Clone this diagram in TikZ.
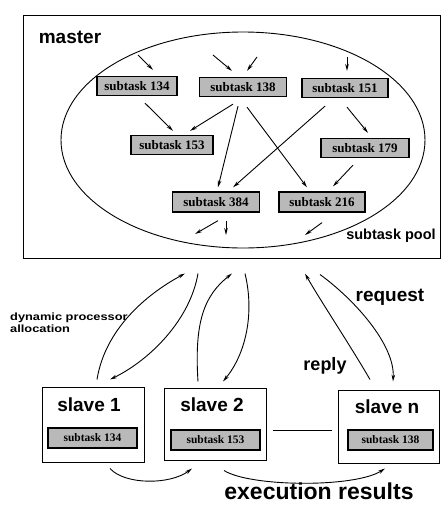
\documentclass[tikz,border=0pt]{standalone}
\usepackage{fontspec}
\setmainfont{Liberation Sans}
\newfontfamily\subfont{Liberation Serif}
\usetikzlibrary{shapes.geometric,arrows.meta}
\begin{document}
\begin{tikzpicture}[x=1pt,y=-1pt,
  subbox/.style={draw,line width=1.3pt,fill=gray!55,inner sep=0pt,
    minimum height=19pt,font=\subfont\bfseries\fontsize{13}{14}\selectfont},
  arr/.style={-{Stealth[length=7pt,width=3.6pt]},line width=0.9pt},
  plain/.style={line width=0.9pt},
  slavebox/.style={draw,line width=1pt,inner sep=0pt},
  lbl/.style={font=\bfseries,inner sep=0pt}]
\useasboundingbox (0,0) rectangle (441,507);

% master box and pool
\node[draw,line width=1pt,minimum width=417pt,minimum height=243pt,inner sep=0pt] (masterbox) at (231.5,136.5) {};
\node[draw,ellipse,line width=0.9pt,minimum width=364pt,minimum height=216pt,inner sep=0pt] (pool) at (243,140) {};
\node[lbl,font=\bfseries\fontsize{19}{21}\selectfont] (mastertxt) at (70,37) {master};
\node[lbl,font=\bfseries\fontsize{14.5}{16}\selectfont] (pooltxt) at (391,236) {subtask pool};

% subtasks in pool
\node[subbox,minimum width=80pt] (s134) at (137,86) {subtask 134};
\node[subbox,minimum width=87pt] (s138) at (243,87) {subtask 138};
\node[subbox,minimum width=86pt] (s151) at (345,88) {subtask 151};
\node[subbox,minimum width=82pt] (s153) at (172,145) {subtask 153};
\node[subbox,minimum width=88pt] (s179) at (365,148) {subtask 179};
\node[subbox,minimum width=87pt,minimum height=20pt] (s384) at (216,202) {subtask 384};
\node[subbox,minimum width=86pt,minimum height=20pt] (s216) at (322,202) {subtask 216};

% incoming arrows
\coordinate (i1) at (138,55);
\coordinate (i2) at (213,55);
\coordinate (i3) at (257,57);
\coordinate (i4) at (347,57);
\draw[arr] (i1) -- ([xshift=16pt,yshift=6pt]s134.north);
\draw[arr] (i2) -- ([xshift=-11pt,yshift=6pt]s138.north);
\draw[arr] (i3) -- ([xshift=4pt,yshift=6pt]s138.north);
\draw[arr] (i4) -- ([xshift=2pt,yshift=7pt]s151.north);

% dependencies
\draw[arr] ([xshift=8pt,yshift=-7pt]s134.south) -- ([xshift=1pt,yshift=4pt]s153.north);
\draw[arr] ([xshift=-10pt,yshift=-7pt]s138.south) -- ([xshift=18pt,yshift=4pt]s153.north);
\draw[arr] ([xshift=-5pt,yshift=-9pt]s138.south) -- ([xshift=2pt,yshift=4pt]s384.north);
\draw[arr] ([xshift=4pt,yshift=-10pt]s138.south) -- ([xshift=-15pt,yshift=4pt]s216.north);
\draw[arr] ([xshift=-20pt,yshift=-8pt]s151.south) -- ([xshift=17pt,yshift=4pt]s384.north);
\draw[arr] ([xshift=2pt,yshift=-9pt]s151.south) -- ([xshift=3pt,yshift=5pt]s179.north);
\draw[arr] ([xshift=-12pt,yshift=-7pt]s179.south) -- ([xshift=11pt,yshift=5pt]s216.north);

% outgoing arrows
\coordinate (o1) at (195,234);
\coordinate (o2) at (226,235);
\coordinate (o3) at (305,235);
\draw[arr] ([xshift=2pt,yshift=-8pt]s384.south) -- (o1);
\draw[arr] ([xshift=10pt,yshift=-8pt]s384.south) -- (o2);
\draw[arr] ([xshift=0pt,yshift=-10pt]s216.south) -- (o3);

% slaves
\node[slavebox,minimum width=102pt,minimum height=75pt] (slave1) at (93,424.5) {};
\node[slavebox,minimum width=102pt,minimum height=72pt] (slave2) at (215,424) {};
\node[slavebox,minimum width=101pt,minimum height=73pt] (slaven) at (388.5,426.5) {};
\node[lbl,font=\bfseries\fontsize{19}{21}\selectfont] (sl1txt) at (89,405) {slave 1};
\node[lbl,font=\bfseries\fontsize{19}{21}\selectfont] (sl2txt) at (212,405) {slave 2};
\node[lbl,font=\bfseries\fontsize{19}{21}\selectfont] (slntxt) at (387,407) {slave n};
\node[subbox,minimum width=89pt,minimum height=20pt,font=\subfont\bfseries\fontsize{11.5}{12}\selectfont] (q134) at (92.5,438) {subtask 134};
\node[subbox,minimum width=89pt,minimum height=20pt,font=\subfont\bfseries\fontsize{11.5}{12}\selectfont] (q153) at (215.5,440) {subtask 153};
\node[subbox,minimum width=85pt,minimum height=20pt,font=\subfont\bfseries\fontsize{11.5}{12}\selectfont] (q138) at (390.5,440) {subtask 138};

% ellipsis line
\draw[plain] ([xshift=6pt,yshift=-6pt]slave2.east) -- ([xshift=-6pt,yshift=-3.5pt]slaven.west);

% master <-> slave connectors
\coordinate (t1a) at ([xshift=-46.5pt,yshift=-15pt]masterbox.south);
\coordinate (t1b) at ([xshift=-33.5pt,yshift=-15pt]masterbox.south);
\coordinate (t2a) at ([xshift=0.5pt,yshift=-15pt]masterbox.south);
\coordinate (t2b) at ([xshift=13.5pt,yshift=-15pt]masterbox.south);
\coordinate (tna) at ([xshift=73.5pt,yshift=-15pt]masterbox.south);
\coordinate (tnb) at ([xshift=88.5pt,yshift=-16pt]masterbox.south);
\coordinate (b1a) at ([xshift=4pt,yshift=7pt]slave1.north);
\coordinate (b1b) at ([xshift=17pt,yshift=7pt]slave1.north);
\coordinate (b2a) at ([xshift=-17pt,yshift=6pt]slave2.north);
\coordinate (b2b) at ([xshift=8pt,yshift=6pt]slave2.north);
\coordinate (bna) at ([xshift=-18.5pt,yshift=10pt]slaven.north);
\coordinate (bnb) at ([xshift=4.5pt,yshift=8pt]slaven.north);

\draw[arr] (b1a) .. controls (105,330) and (145,295) .. (t1a);
\draw[arr] (t1b) .. controls (190,320) and (150,360) .. (b1b);
\draw[arr] (b2a) .. controls (194,320) and (205,295) .. (t2a);
\draw[arr] (t2b) .. controls (255,315) and (245,355) .. (b2b);
\draw[arr] (bna) .. controls (350,345) and (320,300) .. (tna);
\draw[arr] (tnb) .. controls (355,300) and (395,345) .. (bnb);

\node[lbl,font=\bfseries\fontsize{10.5}{11.5}\selectfont,align=left,anchor=north west] (dyn) at (10,313)
  {\addfontfeature{FakeStretch=1.22}dynamic processor\\ \addfontfeature{FakeStretch=1.22}allocation};
\node[lbl,font=\bfseries\fontsize{19}{21}\selectfont] (reqtxt) at (390,297) {request};
\node[lbl,font=\bfseries\fontsize{18}{20}\selectfont] (reptxt) at (325,366) {reply};

% execution results
\coordinate (e1a) at ([xshift=17pt,yshift=-6pt]slave1.south);
\coordinate (e1b) at ([xshift=-23pt,yshift=-8pt]slave2.south);
\coordinate (e2a) at ([xshift=9pt,yshift=-10pt]slave2.south);
\coordinate (e2b) at ([xshift=-3.5pt,yshift=-5pt]slaven.south);
\draw[arr] (e1a) .. controls (125,485) and (170,485) .. (e1b);
\draw[arr] (e2a) .. controls (250,487) and (355,488) .. (e2b);
\node[lbl,font=\bfseries\fontsize{23}{25}\selectfont,anchor=base] (exectxt) at (319,499) {execution results};
\end{tikzpicture}
\end{document}
